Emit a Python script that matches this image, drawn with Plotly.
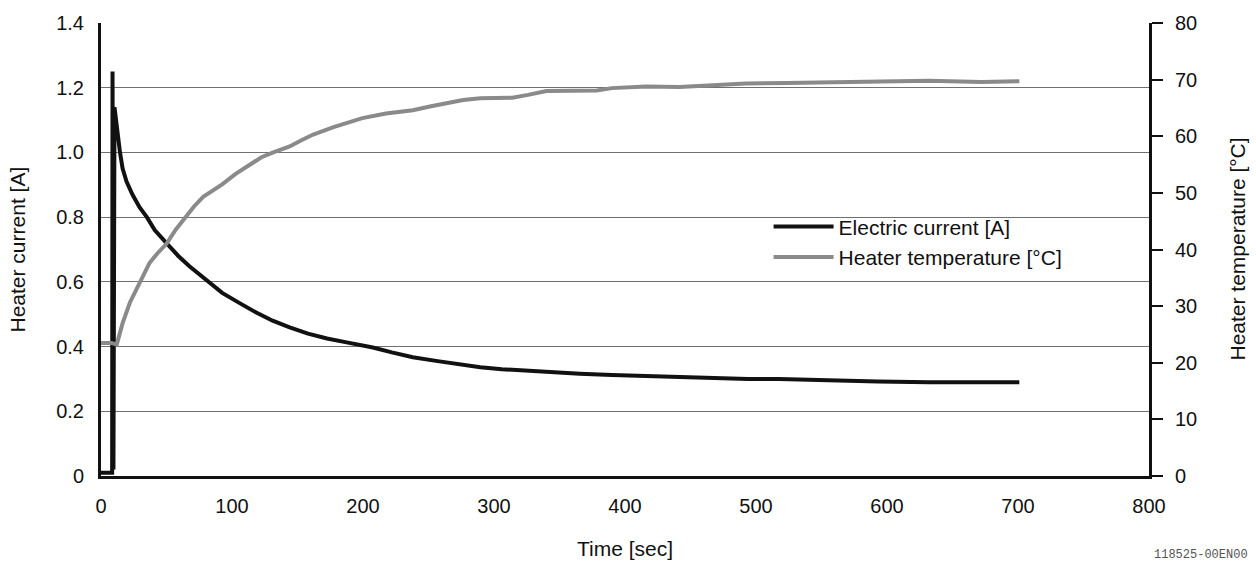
import plotly.graph_objects as go

# Electric current [A] vs time [sec]
t_current = [0, 8.5, 8.8, 9.5, 10.3, 11.5, 13, 14.5, 16.5, 19.5, 24, 29.5, 35, 41, 50, 59, 67.5, 74, 81,
             92.5, 105.5, 118.5, 131, 144, 158, 172.5, 187.5, 207.5, 222, 238, 257, 273.5, 289.5, 306,
             324, 340, 365.5, 390, 415, 441.5, 464.5, 494, 517.5, 553, 593, 632, 672, 701]
i_current = [0.01, 0.01, 1.25, 0.02, 1.14, 1.10, 1.04, 1.00, 0.95, 0.91, 0.87, 0.83, 0.80, 0.76, 0.72,
             0.68, 0.648, 0.627, 0.606, 0.566, 0.535, 0.505, 0.48, 0.459, 0.44, 0.425, 0.413, 0.397,
             0.382, 0.367, 0.355, 0.345, 0.336, 0.33, 0.325, 0.321, 0.316, 0.312, 0.309, 0.306, 0.303,
             0.30, 0.30, 0.295, 0.292, 0.29, 0.29, 0.29]

# Heater temperature [°C] vs time [sec]
t_temp = [0, 8, 12, 16.5, 22, 29.5, 37, 43, 50, 57, 65, 71, 78, 85, 92.5, 102.5, 113.5, 122.5, 131, 144,
          153, 162, 177.5, 199.5, 217.5, 238, 252, 263.5, 276.5, 289.5, 314, 326, 340, 378.5, 390, 416,
          441.5, 467, 492, 523.5, 553, 593, 632, 672, 701]
temp = [23.5, 23.5, 23.2, 27.0, 30.6, 34.0, 37.6, 39.3, 41.0, 43.5, 45.8, 47.6, 49.3, 50.3, 51.5, 53.3,
        55.0, 56.3, 57.1, 58.2, 59.3, 60.3, 61.6, 63.2, 64.0, 64.6, 65.3, 65.9, 66.4, 66.7, 66.8, 67.3,
        68.0, 68.1, 68.5, 68.8, 68.7, 69.0, 69.3, 69.4, 69.5, 69.7, 69.8, 69.6, 69.7]

left_ticks = [0, 0.2, 0.4, 0.6, 0.8, 1.0, 1.2, 1.4]
left_labels = ["0", "0.2", "0.4", "0.6", "0.8", "1.0", "1.2", "1.4"]
right_ticks = [0, 10, 20, 30, 40, 50, 60, 70, 80]
x_ticks = [0, 100, 200, 300, 400, 500, 600, 700, 800]

FONT = "Liberation Sans, Arial, sans-serif"
INK = "#111111"

fig = go.Figure()
fig.add_trace(go.Scatter(x=t_current, y=i_current, mode="lines", name="Electric current [A]",
                         line=dict(color=INK, width=4)))
fig.add_trace(go.Scatter(x=t_temp, y=temp, mode="lines", name="Heater temperature [°C]",
                         line=dict(color="#8a8a8a", width=4), yaxis="y2"))

fig.update_layout(
    width=1256, height=568,
    margin=dict(l=101, r=107, t=17, b=92),
    paper_bgcolor="white", plot_bgcolor="white",
    font=dict(family=FONT, size=20, color=INK),
    showlegend=True,
    legend=dict(x=0.637, y=0.595, xanchor="left", yanchor="top", bgcolor="rgba(0,0,0,0)",
                font=dict(size=21), itemwidth=60),
    xaxis=dict(range=[0, 800], tickvals=x_ticks, showgrid=False, zeroline=False,
               showline=True, linecolor=INK, linewidth=3, ticks="", ticklabelstandoff=10),
    yaxis=dict(range=[0, 1.4], tickvals=left_ticks, ticktext=left_labels, showgrid=True,
               gridcolor="#707070", gridwidth=1, zeroline=False, showline=True,
               linecolor=INK, linewidth=3, ticks="", ticklabelstandoff=10),
    yaxis2=dict(range=[0, 80], tickvals=right_ticks, overlaying="y", side="right",
                showgrid=False, zeroline=False, showline=True, linecolor=INK, linewidth=3,
                ticks="outside", ticklen=11, tickwidth=2, tickcolor=INK, ticklabelstandoff=8),
)

# Axis titles
fig.add_annotation(text="Time [sec]", xref="paper", yref="paper", x=0.5, y=-0.159,
                   xanchor="center", yanchor="middle", showarrow=False, font=dict(size=21))
fig.add_annotation(text="Heater current [A]", xref="paper", yref="paper", x=-0.0792, y=0.5,
                   xanchor="center", yanchor="middle", textangle=-90, showarrow=False,
                   font=dict(size=21))
fig.add_annotation(text="Heater temperature [°C]", xref="paper", yref="paper", x=1.084, y=0.5,
                   xanchor="center", yanchor="middle", textangle=-90, showarrow=False,
                   font=dict(size=21))

fig.add_annotation(text="118525-00EN00", xref="paper", yref="paper", x=1.096, y=-0.174,
                   xanchor="right", yanchor="middle", showarrow=False,
                   font=dict(family="Liberation Mono, monospace", size=12, color="#555555"))

fig.write_html("out.html", config={"displayModeBar": False},
               post_script="document.body.style.margin='0';")
